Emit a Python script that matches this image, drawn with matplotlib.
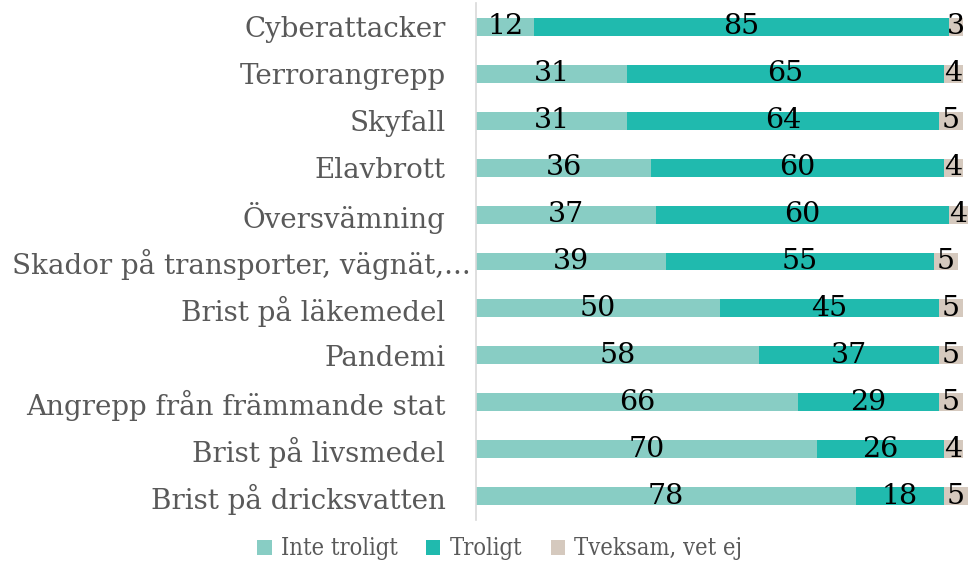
import numpy as np
import matplotlib.pyplot as plt
from matplotlib.transforms import ScaledTranslation

# survey categories, top to bottom
categories = ["Cyberattacker", "Terrorangrepp", "Skyfall", "Elavbrott",
              "Översvämning", "Skador på transporter, vägnät,...",
              "Brist på läkemedel", "Pandemi", "Angrepp från främmande stat",
              "Brist på livsmedel", "Brist på dricksvatten"]
inte_troligt = [12, 31, 31, 36, 37, 39, 50, 58, 66, 70, 78]
troligt      = [85, 65, 64, 60, 60, 55, 45, 37, 29, 26, 18]
tveksam      = [3, 4, 5, 4, 4, 5, 5, 5, 5, 4, 5]
series_names = ["Inte troligt", "Troligt", "Tveksam, vet ej"]
colors = ["#88CDC4", "#20BAAE", "#D5C9BE"]

plt.rcParams['font.family'] = ['DejaVu Serif']

fig = plt.figure(figsize=(9.69, 5.67), dpi=100)
ax = fig.add_axes([476 / 969, 1 - 519.5 / 567, 1 - 476 / 969, 516 / 567])

y = np.arange(len(categories))
left = np.zeros(len(categories))
for vals, name, col in zip([inte_troligt, troligt, tveksam], series_names, colors):
    vals = np.array(vals, dtype=float)
    bars = ax.barh(y, vals, left=left, height=0.38, color=col, label=name)
    ax.bar_label(bars, labels=[str(int(v)) for v in vals], label_type='center',
                 fontsize=20.5, color='black')
    left += vals

ax.set_ylim(len(categories) - 0.5, -0.5)
ax.set_xlim(0, 101.2)
ax.set_yticks(y)
ax.set_yticklabels(categories, fontsize=20, color='#595959')
ax.tick_params(axis='y', length=0, pad=22)
ax.set_xticks([])
for s in ['top', 'right', 'bottom']:
    ax.spines[s].set_visible(False)
ax.spines['left'].set_color('#D9D9D9')
ax.spines['left'].set_linewidth(1.2)

# the truncated label sticks out further to the right, like in the original
lab = ax.get_yticklabels()[5]
lab.set_transform(lab.get_transform() + ScaledTranslation(0.25, 0, fig.dpi_scale_trans))

fig.legend(loc='center', bbox_to_anchor=(0.516, 1 - 549 / 567), ncol=3, frameon=False,
           prop={'size': 17, 'stretch': 'condensed'},
           handlelength=0.6, handleheight=0.6, handletextpad=0.4,
           columnspacing=1.2, labelcolor='#595959')

fig.savefig('out.png', dpi=100)
